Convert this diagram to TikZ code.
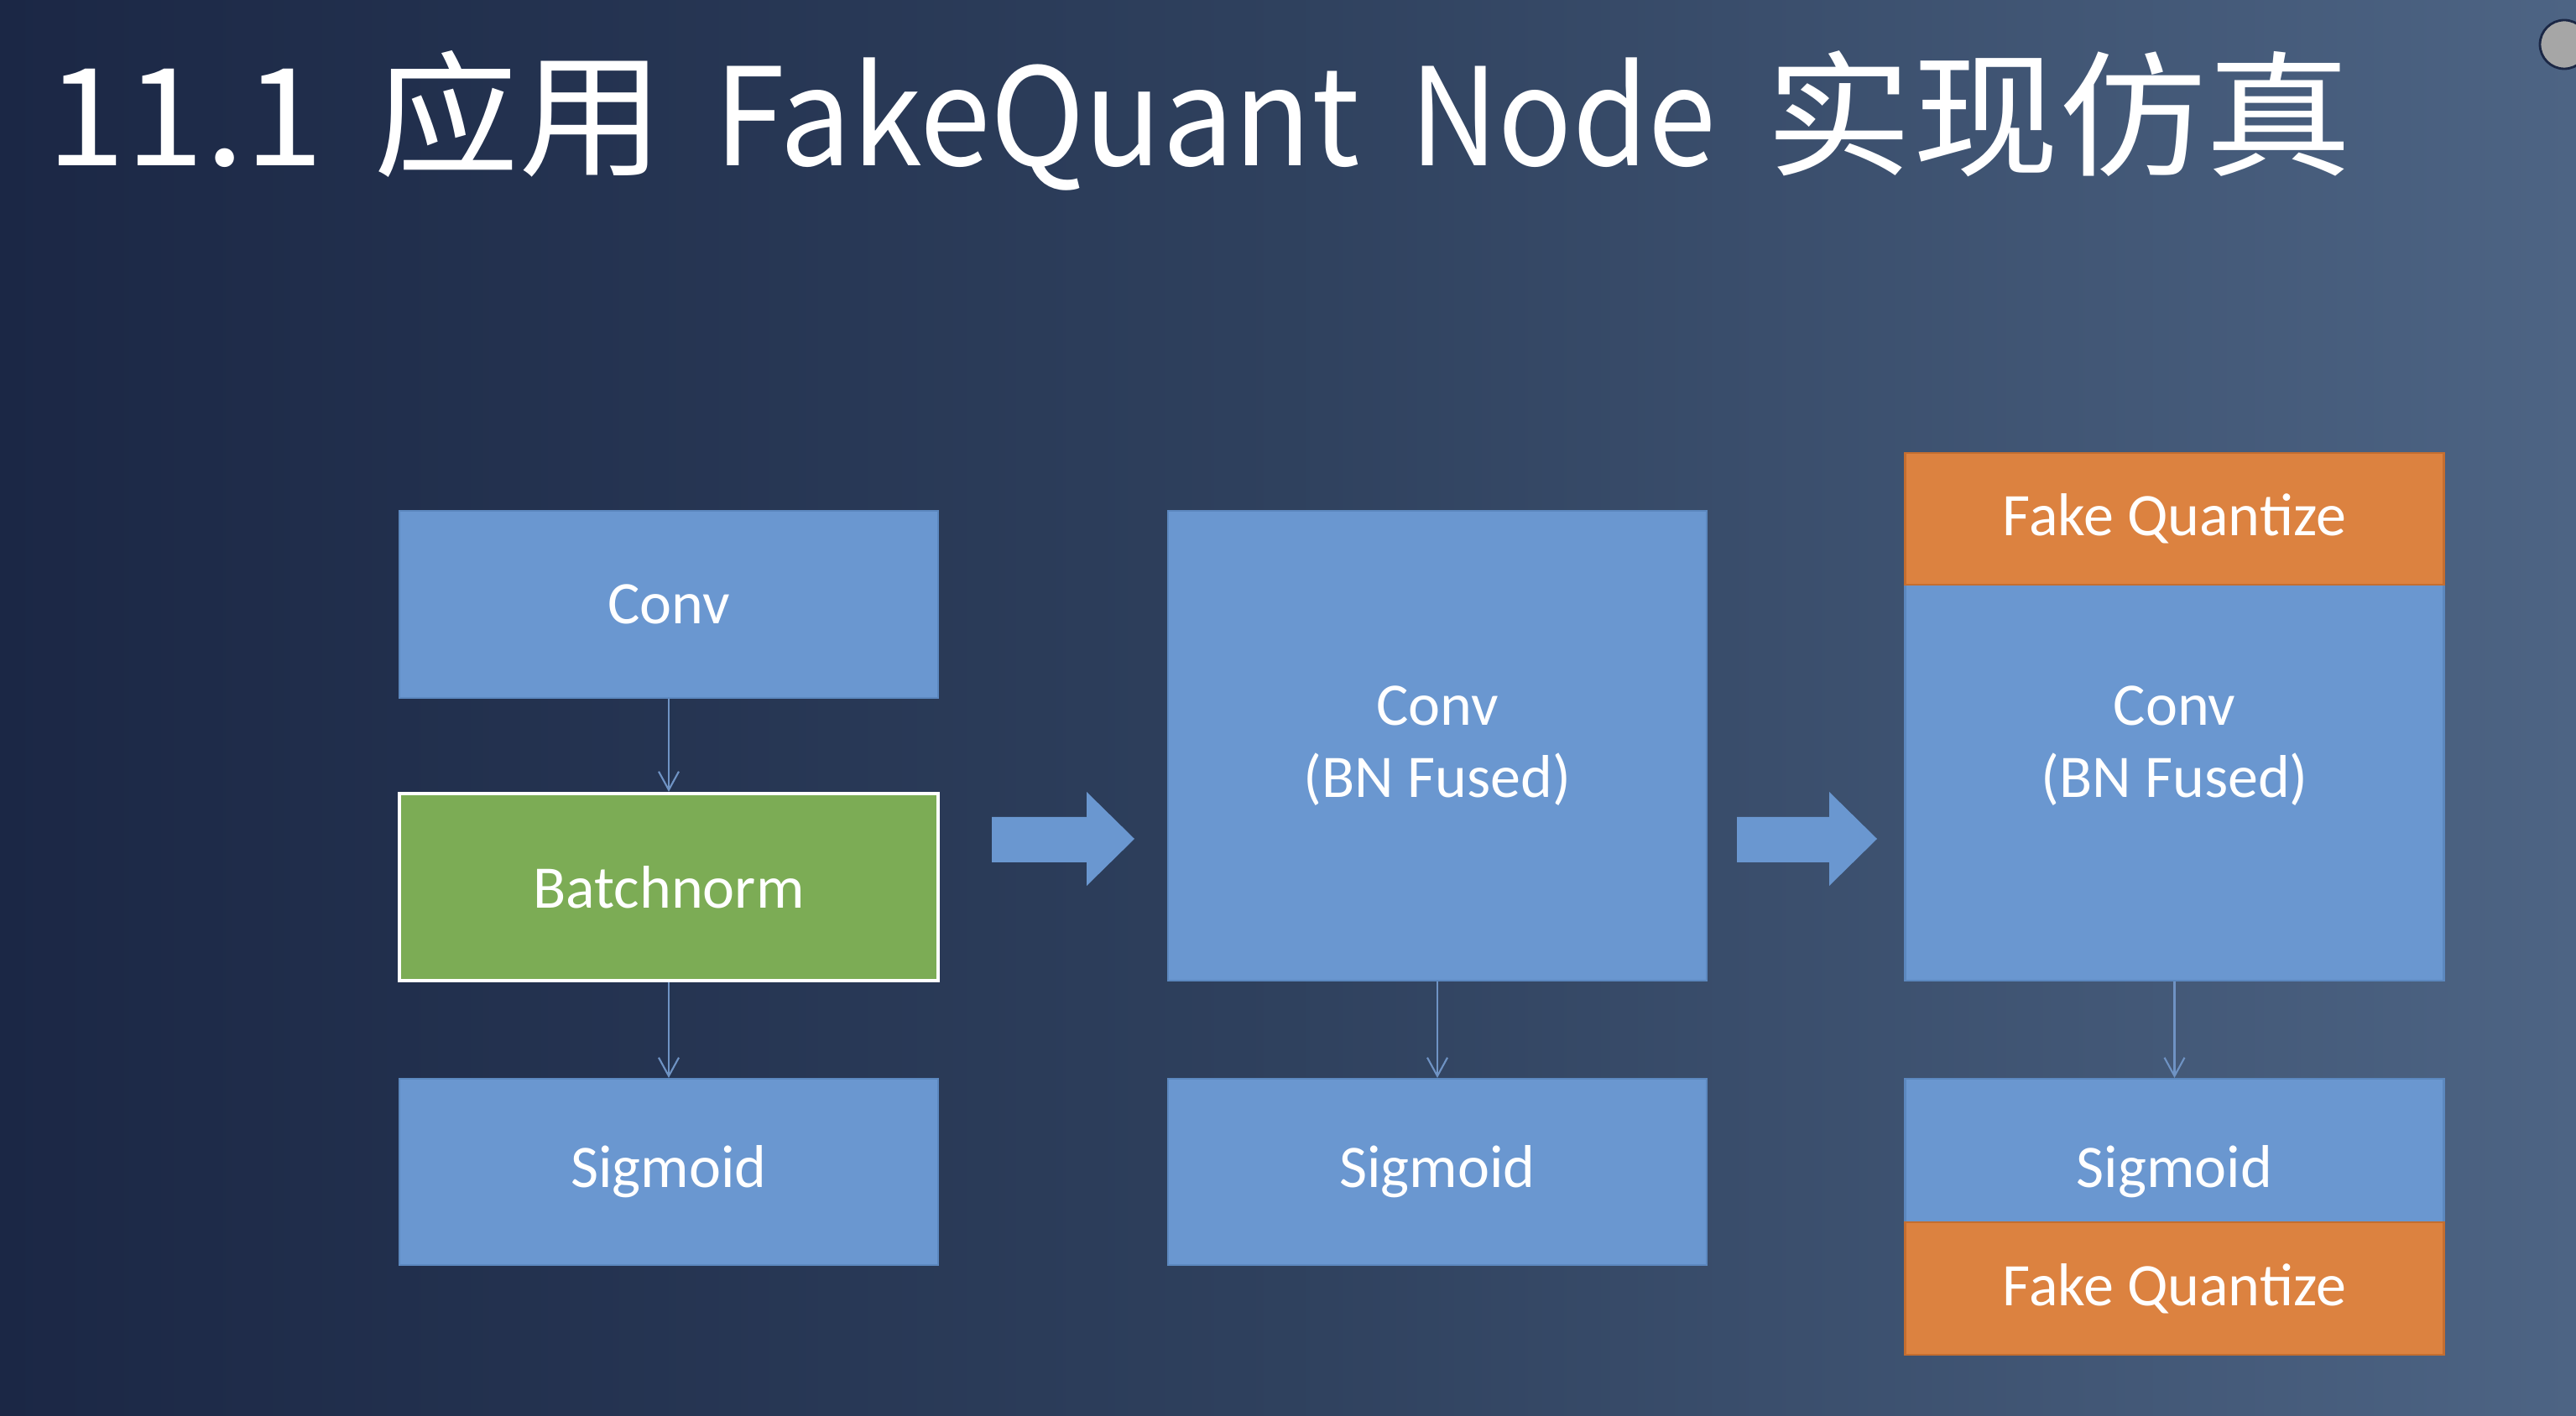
\documentclass[tikz,border=0pt]{standalone}
\usepackage{fontspec}
\setmainfont{Carlito}
\newfontfamily\cjk{Noto Sans CJK SC}
\usetikzlibrary{positioning,arrows.meta}

\definecolor{bgdark}{HTML}{1B2745}
\definecolor{bgmid}{HTML}{2F415E}
\definecolor{bglight}{HTML}{4D6484}
\definecolor{boxblue}{HTML}{6A97D0}
\definecolor{boxedge}{HTML}{5C88BF}
\definecolor{bngreen}{HTML}{7CAC55}
\definecolor{fqorange}{HTML}{DC8240}
\definecolor{fqedge}{HTML}{C46E30}
\definecolor{flowblue}{HTML}{6F93C4}

\tikzset{
  blk/.style={rectangle, fill=boxblue, draw=boxedge, line width=0.6pt,
    minimum width=6.42cm, inner sep=0pt, text=white, align=center,
    font=\fontsize{20.5}{24.5}\selectfont},
  bnblk/.style={blk, fill=bngreen, draw=white, line width=1.2pt},
  fqblk/.style={blk, fill=fqorange, draw=fqedge},
  flow/.style={draw=flowblue, line width=0.6pt, -{Straight Barb[length=2.2mm,width=2.4mm]}}
}

\begin{document}
\begin{tikzpicture}
  % background
  \useasboundingbox (0,0) rectangle (30.70,16.88);
  \shade[left color=bgdark, right color=bglight, middle color=bgmid] (0,0) rectangle (30.70,16.88);
  \filldraw[fill=gray!70, draw=bgdark, line width=0.8pt] (30.56,16.35) circle (0.29);

  % title
  \node[anchor=base west, inner sep=0pt, text=white] (title) at (0.55,14.90)
    {\cjk\fontsize{46}{50}\selectfont\spaceskip=0.60cm
     \scalebox{1.05}[1]{11.1} \scalebox{1.07}[1]{应用} \scalebox{0.94}[1]{FakeQuant}
     \scalebox{0.9}[1]{Node} \scalebox{1.08}[1]{实现仿真}};

  % original graph
  \node[blk, minimum height=2.23cm] (conv1) at (7.97,9.675) {Conv};
  \node[bnblk, minimum height=2.23cm] (bn1) at (7.97,6.305) {Batchnorm};
  \node[blk, minimum height=2.22cm] (sig1) at (7.97,2.91) {Sigmoid};
  \draw[flow] (conv1) -- (bn1);
  \draw[flow] (bn1) -- (sig1);

  % fused graph
  \node[blk, minimum height=5.60cm] (conv2) at (17.13,7.99) {Conv\\(BN Fused)};
  \node[blk, minimum height=2.22cm] (sig2) at (17.13,2.91) {Sigmoid};
  \draw[flow] (conv2) -- (sig2);

  % fake quant graph
  \node[blk, minimum height=5.60cm] (conv3) at (25.915,7.99) {Conv\\(BN Fused)};
  \node[blk, minimum height=2.22cm] (sig3) at (25.915,2.91) {Sigmoid};
  \node[fqblk, minimum height=1.57cm] (fqin) at (25.915,10.695) {Fake Quantize};
  \node[fqblk, minimum height=1.58cm] (fqout) at (25.915,1.52) {Fake Quantize};
  \draw[flow] (conv3) -- (sig3);

  % block arrows
  \foreach \x/\l in {11.82/1.70,20.70/1.67}
    \fill[boxblue] (\x,6.60) -- (\x+\l-0.57,6.60) -- (\x+\l-0.57,6.32) -- (\x+\l,6.88)
      -- (\x+\l-0.57,7.44) -- (\x+\l-0.57,7.14) -- (\x,7.14) -- cycle;
\end{tikzpicture}
\end{document}
